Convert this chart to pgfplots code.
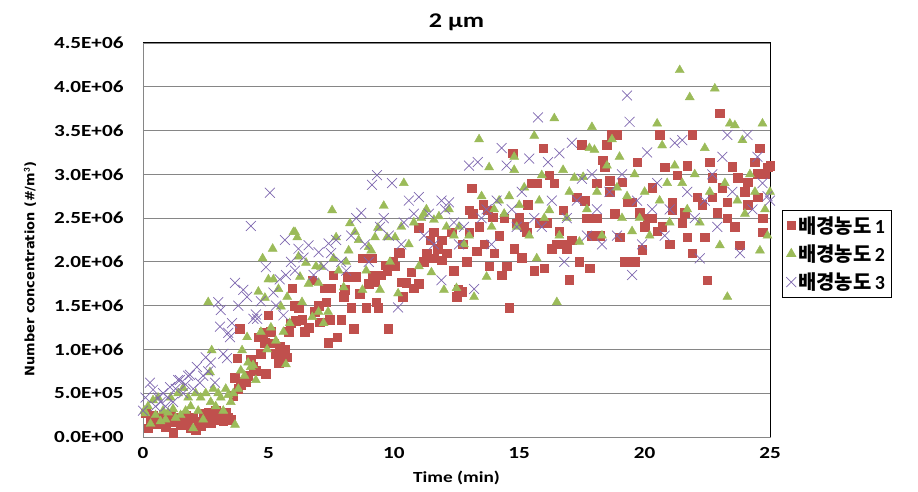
\documentclass[border=0pt]{standalone}
\usepackage{fontspec}
\setmainfont{Carlito}
\newfontfamily\wide{Carlito}[FakeStretch=1.25]
\newfontfamily\kr{Noto Sans CJK KR}
\newfontfamily\dv{DejaVu Sans}
\usepackage{pgfplots}
\pgfplotsset{compat=1.18}

\definecolor{s1}{HTML}{C0504D}
\definecolor{s2}{HTML}{9BBB59}
\definecolor{s3}{HTML}{7F68B0}
\definecolor{gridc}{RGB}{134,134,134}

\begin{document}
\begin{tikzpicture}
\begin{axis}[
    scale only axis,
    width=627bp, height=394bp,
    xmin=0, xmax=25, ymin=0, ymax=4.5,
    xtick={0,5,...,25},
    ytick={0,0.5,...,4.5},
    yticklabels={0.0E+00,5.0E+05,1.0E+06,1.5E+06,2.0E+06,2.5E+06,3.0E+06,3.5E+06,4.0E+06,4.5E+06},
    major tick length=0pt,
    ymajorgrids,
    grid style={gridc, line width=0.9bp},
    axis line style={gridc, line width=0.9bp},
    /pgf/number format/assume math mode=true,
    tick label style={font=\wide\fontsize{17}{20}\selectfont\bfseries},
    yticklabel style={xshift=-16bp},
    xticklabel style={yshift=-7bp},
    clip=false,
    legend style={at={(1.019,0.465)}, anchor=west, draw=black, line width=0.8bp,
        font=\fontsize{20}{23}\selectfont\bfseries, inner sep=4bp, row sep=6bp,
        legend cell align=left},
    legend image post style={line width=0.8bp},
]
% 배경농도 1 (values in 1E+06 #/m3)
\addplot[only marks, mark=square*, mark size=4.3bp, color=s1, fill=s1] coordinates {
(0.1,0.27)(0.2,0.1)(0.3,0.2)(0.4,0.25)(0.5,0.15)(0.6,0.22)(0.7,0.18)(0.8,0.26)(0.9,0.12)(1.0,0.2)
(1.1,0.24)(1.2,0.05)(1.3,0.17)(1.4,0.22)(1.5,0.14)(1.6,0.2)(1.7,0.25)(1.8,0.19)(1.9,0.1)(2.0,0.22)
(2.1,0.08)(2.2,0.18)(2.3,0.13)(2.4,0.27)(2.5,0.2)(2.6,0.28)(2.7,0.16)(2.8,0.22)(2.9,0.3)(3.0,0.2)
(3.1,0.25)(3.2,0.18)(3.3,0.28)(3.4,0.22)(3.5,0.2)(3.6,0.47)(3.65,0.68)(3.75,0.9)(3.8,0.55)(3.85,1.24)
(3.9,0.6)(4.0,0.63)(4.1,0.63)(4.2,0.7)(4.3,0.88)(4.4,0.8)(4.5,0.76)(4.6,1.14)(4.7,0.95)(4.8,1.19)
(4.85,1.08)(4.9,0.72)(5.0,1.39)(5.1,1.2)(5.2,1.07)(5.3,0.95)(5.4,0.85)(5.45,1.03)(5.5,0.9)(5.6,0.96)
(5.65,1.0)(5.75,0.91)(5.8,1.2)(5.9,1.3)(5.95,1.7)(6.05,1.5)(6.1,1.33)(6.2,1.48)(6.35,1.34)(6.45,1.2)
(6.6,1.25)(6.75,1.79)(6.85,1.43)(7.0,1.5)(7.05,1.31)(7.25,1.7)(7.3,1.54)(7.38,1.08)(7.45,1.34)(7.5,1.7)
(7.58,1.85)(7.74,1.14)(7.9,1.34)(8.0,1.6)(8.05,1.68)(8.17,1.83)(8.3,1.48)(8.4,1.24)(8.5,1.83)(8.65,1.64)
(8.75,2.04)(8.85,2.04)(8.9,1.48)(9.0,1.75)(9.13,2.04)(9.17,1.85)(9.25,1.77)(9.3,1.54)(9.37,1.48)(9.5,1.85)
(9.65,1.96)(9.73,1.9)(9.77,1.24)(9.97,2.0)(10.05,1.95)(10.2,2.11)(10.25,2.1)(10.3,1.77)(10.35,1.6)(10.5,1.76)
(10.7,1.88)(10.8,1.7)(11.0,1.75)(11.0,2.39)(11.2,2.0)(11.3,2.1)(11.45,2.25)(11.6,2.34)(11.6,2.04)(11.75,2.15)
(11.9,2.25)(11.9,2.02)(12.1,2.1)(12.3,2.34)(12.4,1.9)(12.5,1.6)(12.56,1.68)(12.7,1.66)(12.75,2.2)(12.9,2.0)
(13.0,2.59)(13.0,2.34)(13.1,2.84)(13.15,2.55)(13.3,2.12)(13.4,2.4)(13.56,2.65)(13.6,2.2)(13.75,2.59)(13.8,1.95)
(13.95,2.51)(14.0,2.1)(14.2,2.3)(14.3,1.85)(14.4,2.5)(14.5,1.95)(14.6,1.48)(14.75,3.24)(14.8,2.15)(14.9,2.44)
(15.0,2.51)(15.1,2.05)(15.2,2.4)(15.3,2.34)(15.35,2.65)(15.5,2.9)(15.6,1.9)(15.7,2.9)(15.8,2.45)(15.95,3.3)
(16.0,1.93)(16.1,2.45)(16.2,2.99)(16.3,2.15)(16.4,2.9)(16.5,2.2)(16.6,2.35)(16.75,2.59)(16.8,2.2)(16.9,2.15)
(17.0,1.8)(17.1,2.25)(17.3,2.74)(17.4,2.0)(17.5,3.34)(17.6,2.7)(17.7,2.5)(17.8,1.93)(17.9,2.3)(18.1,2.9)
(18.1,2.5)(18.2,2.3)(18.34,3.16)(18.4,3.08)(18.5,3.34)(18.6,2.8)(18.6,2.93)(18.7,3.45)(18.8,2.55)(18.9,3.45)
(19.0,2.28)(19.1,2.91)(19.2,2.0)(19.3,2.68)(19.5,2.68)(19.6,2.0)(19.7,3.14)(19.8,2.56)(19.9,2.14)(20.0,2.4)
(20.1,2.5)(20.3,2.85)(20.3,2.5)(20.5,2.35)(20.6,3.45)(20.7,2.4)(20.8,3.08)(21.0,2.2)(21.1,2.68)(21.1,2.59)
(21.3,2.99)(21.5,2.45)(21.6,2.56)(21.7,3.1)(21.7,2.28)(21.9,3.45)(21.9,2.1)(22.1,2.74)(22.3,2.65)(22.4,2.28)
(22.5,1.79)(22.6,3.14)(22.7,2.96)(22.7,2.74)(22.9,2.56)(23.0,3.7)(23.1,2.85)(23.3,2.68)(23.3,2.5)(23.5,3.09)
(23.6,2.4)(23.7,2.96)(23.8,2.19)(24.0,2.8)(24.1,2.91)(24.1,2.65)(24.4,3.14)(24.5,3.01)(24.5,2.74)(24.6,3.3)
(24.7,2.5)(24.7,2.34)(24.8,3.0)(24.9,3.08)(25.0,3.1)
};
\addlegendentry{{\kr 배경농도}\,1}
% 배경농도 2
\addplot[only marks, mark=triangle*, mark size=5.2bp, color=s2, fill=s2] coordinates {
(0.05,0.3)(0.1,0.27)(0.2,0.35)(0.3,0.15)(0.4,0.42)(0.5,0.25)(0.6,0.45)(0.7,0.18)(0.8,0.3)(0.9,0.2)
(1.0,0.28)(1.1,0.45)(1.2,0.32)(1.3,0.22)(1.4,0.5)(1.5,0.25)(1.6,0.56)(1.7,0.3)(1.8,0.45)(1.9,0.35)
(2.0,0.1)(2.1,0.5)(2.2,0.3)(2.3,0.45)(2.4,0.2)(2.5,0.5)(2.6,1.54)(2.67,0.74)(2.7,0.4)(2.74,0.99)
(2.8,0.55)(2.9,0.35)(3.0,0.5)(3.1,0.45)(3.2,0.3)(3.3,0.55)(3.4,0.48)(3.5,0.4)(3.6,0.5)(3.67,0.14)
(3.8,0.55)(3.9,0.76)(3.95,0.99)(4.05,0.7)(4.15,1.14)(4.19,0.85)(4.3,0.8)(4.39,0.82)(4.5,0.65)(4.6,1.66)
(4.7,1.2)(4.77,2.04)(4.86,1.59)(4.95,1.0)(5.0,1.8)(5.1,1.25)(5.17,2.15)(5.2,1.8)(5.3,1.1)(5.4,1.69)
(5.5,1.49)(5.6,1.2)(5.7,0.83)(5.75,1.6)(5.85,1.3)(6.0,2.34)(6.06,2.34)(6.15,2.28)(6.2,2.06)(6.26,1.83)
(6.34,1.54)(6.5,1.99)(6.6,1.75)(6.75,1.37)(6.9,1.95)(7.0,1.43)(7.0,1.76)(7.1,1.94)(7.2,1.3)(7.38,1.43)
(7.54,2.59)(7.6,2.04)(7.7,2.28)(7.8,1.9)(8.0,1.71)(8.1,2.0)(8.2,2.13)(8.25,2.44)(8.45,2.34)(8.6,2.25)
(8.75,1.68)(8.9,1.9)(9.0,2.17)(9.1,2.13)(9.25,2.28)(9.37,2.39)(9.45,1.68)(9.6,2.64)(9.73,2.28)(9.85,2.0)
(10.05,2.28)(10.17,1.64)(10.3,2.4)(10.4,2.9)(10.6,2.2)(10.8,2.45)(11.0,1.95)(11.1,2.5)(11.2,2.55)(11.3,2.6)
(11.5,1.88)(11.6,2.48)(11.8,2.52)(12.0,1.68)(12.1,2.4)(12.2,2.6)(12.4,2.3)(12.5,1.7)(12.6,2.4)(12.8,2.2)
(13.0,2.3)(13.2,1.6)(13.4,3.4)(13.5,2.75)(13.7,1.83)(13.8,3.08)(13.9,2.4)(14.0,2.6)(14.2,2.7)(14.4,2.55)
(14.6,2.75)(14.8,3.2)(14.8,3.05)(14.9,2.4)(15.0,2.65)(15.2,2.85)(15.4,2.3)(15.6,3.44)(15.7,2.04)(15.8,2.7)
(15.9,2.99)(16.0,2.5)(16.2,2.59)(16.4,3.64)(16.5,1.54)(16.6,2.3)(16.75,3.05)(16.9,2.5)(17.0,2.8)(17.2,2.96)
(17.4,2.23)(17.55,2.97)(17.7,2.6)(17.8,3.3)(17.9,3.54)(18.0,3.28)(18.1,2.8)(18.3,2.3)(18.5,3.1)(18.7,3.4)
(18.9,2.85)(19.0,3.2)(19.1,2.5)(19.3,2.75)(19.5,2.35)(19.6,3.0)(19.8,2.5)(20.0,2.8)(20.2,2.3)(20.5,3.58)
(20.6,2.7)(20.7,3.33)(20.9,2.9)(21.0,2.45)(21.2,3.1)(21.4,4.19)(21.5,2.9)(21.7,2.6)(21.8,3.88)(22.0,3.0)
(22.2,2.45)(22.4,3.3)(22.6,2.8)(22.8,3.98)(23.0,2.19)(23.2,2.9)(23.3,1.6)(23.4,3.58)(23.6,3.56)(23.7,2.7)
(23.9,3.39)(24.0,2.55)(24.2,3.0)(24.4,2.8)(24.6,2.13)(24.7,3.58)(24.8,2.6)(24.9,2.3)(25.0,2.8)
};
\addlegendentry{{\kr 배경농도}\,2}
% 배경농도 3
\addplot[only marks, mark=x, mark size=7bp, color=s3, line width=0.7bp] coordinates {
(0.0,0.3)(0.1,0.45)(0.28,0.62)(0.4,0.54)(0.5,0.35)(0.6,0.45)(0.7,0.4)(0.8,0.5)(0.9,0.35)(1.0,0.45)
(1.08,0.57)(1.2,0.4)(1.3,0.55)(1.4,0.65)(1.47,0.65)(1.6,0.5)(1.7,0.6)(1.8,0.7)(1.87,0.71)(2.0,0.55)
(2.15,0.8)(2.27,0.62)(2.4,0.7)(2.5,0.91)(2.6,0.75)(2.7,0.85)(2.87,0.62)(3.0,1.54)(3.07,1.26)(3.1,1.45)
(3.2,0.95)(3.35,0.9)(3.4,1.19)(3.47,1.14)(3.55,1.3)(3.67,1.76)(3.8,1.5)(4.0,1.68)(4.15,1.6)(4.3,2.41)
(4.4,1.35)(4.5,1.4)(4.55,1.35)(4.7,1.55)(4.9,1.94)(5.06,2.79)(5.2,1.65)(5.3,1.5)(5.45,1.8)(5.6,1.39)
(5.66,2.25)(5.7,1.85)(5.9,2.0)(6.06,1.9)(6.2,2.15)(6.4,2.05)(6.6,2.19)(6.8,1.85)(7.0,2.11)(7.2,1.95)
(7.4,2.21)(7.5,2.1)(7.7,2.25)(7.9,2.0)(8.1,1.9)(8.3,2.3)(8.5,2.5)(8.7,2.56)(8.85,2.2)(9.0,2.0)
(9.13,2.88)(9.33,2.99)(9.45,2.4)(9.6,2.5)(9.8,2.3)(9.93,2.9)(10.17,1.48)(10.3,2.2)(10.4,2.45)(10.6,2.7)
(10.8,2.55)(11.0,2.74)(11.2,2.3)(11.4,2.55)(11.6,2.2)(11.9,2.7)(11.9,1.79)(12.05,2.6)(12.2,2.68)(12.4,2.45)
(12.6,2.2)(12.8,2.4)(13.0,3.1)(13.2,1.69)(13.35,3.14)(13.5,2.5)(13.7,2.6)(13.9,2.2)(14.1,2.7)(14.3,3.3)
(14.5,3.1)(14.7,2.6)(14.9,2.4)(15.1,2.8)(15.4,3.18)(15.6,2.5)(15.75,3.65)(15.9,2.4)(16.15,3.14)(16.3,2.7)
(16.6,3.24)(16.8,2.0)(16.9,2.5)(17.1,3.36)(17.3,2.7)(17.5,2.95)(17.7,2.3)(17.9,3.0)(18.1,2.6)(18.3,2.2)
(18.6,2.8)(18.9,2.3)(19.1,3.0)(19.3,3.9)(19.4,3.6)(19.5,1.85)(19.7,2.7)(19.9,2.2)(20.1,3.25)(20.3,2.6)
(20.5,2.9)(20.8,2.3)(21.0,2.6)(21.2,3.36)(21.5,3.39)(21.7,2.8)(22.0,2.5)(22.2,2.04)(22.4,2.7)(22.7,3.0)
(22.9,2.4)(23.1,3.2)(23.3,3.45)(23.5,2.8)(23.8,2.1)(24.1,3.45)(24.3,2.6)(24.5,3.2)(24.7,2.9)(24.9,2.75)
(25.0,2.7)
};
\addlegendentry{{\kr 배경농도}\,3}
\draw[black, line width=1bp] (rel axis cs:0,1) -- (rel axis cs:1,1) -- (rel axis cs:1,0);
\node[font=\wide\fontsize{21}{24}\selectfont\bfseries] at ([yshift=21bp]rel axis cs:0.5,1) {2 µm};
\node[font=\wide\fontsize{15.5}{18}\selectfont\bfseries] at ([yshift=-41bp]rel axis cs:0.5,0) {Time (min)};
\node[font=\dv\bfseries\fontsize{13}{15}\selectfont, rotate=90] at ([xshift=-113bp]rel axis cs:0,0.426) {Number concentration (\#/m$^{\mathbf{3}}$)};
\path ([xshift=-143bp,yshift=-55bp]rel axis cs:0,0) rectangle ([xshift=148bp,yshift=43bp]rel axis cs:1,1);
\end{axis}
\end{tikzpicture}
\end{document}
